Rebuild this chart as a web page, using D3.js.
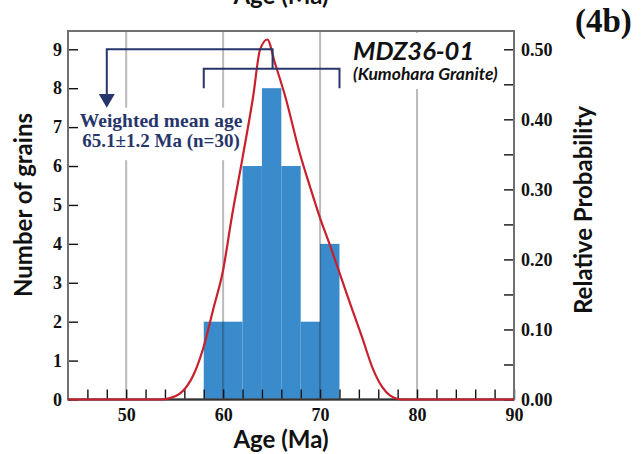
<!DOCTYPE html>
<html>
<head>
<meta charset="utf-8">
<script src="https://cdn.jsdelivr.net/npm/d3@7"></script>
<style>
  body { margin: 0; background: #fff; }
  svg { display: block; }
  .num { font-family: "Liberation Serif", serif; font-weight: bold; font-size: 18px; fill: #111; }
  .label { font-family: Lato, sans-serif; font-weight: bold; font-size: 24px; fill: #111; }
</style>
</head>
<body>
<svg width="643" height="454"></svg>
<script>
// **** data ****
var binStarts = [58, 60, 62, 64, 66, 68, 70];
var binWidth = 2;
var counts = [2, 2, 6, 8, 6, 2, 4];

// probability density curve (age in Ma, relative probability)
var curveAge  = [44, 52, 53.5, 54.5, 55.5, 56.1, 57.1, 57.9, 59.0, 60.0, 60.9, 62.0, 63.1, 63.8, 64.55, 65.35, 66.4, 67.9, 69.0, 70.0, 71.0, 72.0, 73.1, 74.3, 75.5, 76.4, 77.2, 78.5, 90];
var curveProb = [0, 0, 0.0, 0.002, 0.008, 0.016, 0.040, 0.071, 0.130, 0.185, 0.261, 0.345, 0.433, 0.499, 0.514, 0.480, 0.433, 0.352, 0.302, 0.259, 0.221, 0.181, 0.137, 0.090, 0.042, 0.018, 0.006, 0, 0];

var countTicks = [0, 1, 2, 3, 4, 5, 6, 7, 8, 9];
var probTicks = [0, 0.05, 0.1, 0.15, 0.2, 0.25, 0.3, 0.35, 0.4, 0.45, 0.5];
var ageTicks = [46, 48, 50, 52, 54, 56, 58, 60, 62, 64, 66, 68, 70, 72, 74, 76, 78, 80, 82, 84, 86, 88, 90];
var ageGrid = [50, 60, 70, 80];

var meanAge = 65.1;
var rangeAges = [58, 72];
var arrowAge = 48;

// **** scales ****
var svg = d3.select('svg');

var x = d3.scaleLinear().domain([44, 90]).range([68, 514]);
var y = d3.scaleLinear().domain([0, 9.47]).range([399.5, 31]);
var yp = d3.scaleLinear().domain([0, 0.5]).range([y(0), y(9)]);

// bars
svg.append('g')
    .selectAll('rect')
    .data(binStarts)
    .enter()
    .append('rect')
    .attr('x', function (d) { return x(d); })
    .attr('width', function (d) { return x(d + binWidth) - x(d); })
    .attr('y', function (d, i) { return y(counts[i]); })
    .attr('height', function (d, i) { return y(0) - y(counts[i]); })
    .style('fill', '#3a8bcc');

// gridlines (darken the bars where they cross)
svg.append('g')
    .selectAll('line')
    .data(ageGrid)
    .enter()
    .append('line')
    .attr('x1', function (d) { return x(d); })
    .attr('x2', function (d) { return x(d); })
    .attr('y1', y.range()[1])
    .attr('y2', y.range()[0])
    .style('stroke', '#000')
    .style('stroke-opacity', 0.27)
    .style('stroke-width', 2);

// white boxes behind the labels
svg.append('rect')
    .attr('x', x(44.2)).attr('y', y(7.5))
    .attr('width', x(62.4) - x(44.2)).attr('height', y(6.15) - y(7.5))
    .style('fill', '#fff');
svg.append('rect')
    .attr('x', x(72.6)).attr('y', y(9.42))
    .attr('width', x(89.8) - x(72.6)).attr('height', y(7.98) - y(9.42))
    .style('fill', '#fff');

// axes
var leftAxis = svg.append('g')
    .attr('transform', 'translate(' + x(44) + ',0)')
    .call(d3.axisLeft(y).tickValues(countTicks).tickSizeInner(-10).tickSizeOuter(0).tickPadding(6));

var rightAxis = svg.append('g')
    .attr('transform', 'translate(' + x(90) + ',0)')
    .call(d3.axisRight(yp).tickValues(probTicks).tickSizeInner(-10).tickSizeOuter(0).tickPadding(7)
        .tickFormat(function (d) { return Math.round(d * 100) % 10 === 0 ? d3.format('.2f')(d) : ''; }));

var bottomAxis = svg.append('g')
    .attr('transform', 'translate(0,' + y(0) + ')')
    .call(d3.axisBottom(x).tickValues(ageTicks).tickSizeInner(-10).tickSizeOuter(0).tickPadding(9)
        .tickFormat(function (d) { return d % 10 === 0 ? d : ''; }));

[leftAxis, rightAxis, bottomAxis].forEach(function (g) {
    g.select('.domain').remove();
    g.selectAll('.tick line').style('stroke', '#111').style('stroke-width', 1.4);
    g.selectAll('.tick text').attr('class', 'num').attr('fill', null);
});

// frame
svg.append('rect')
    .attr('x', x(44)).attr('y', y.range()[1])
    .attr('width', x(90) - x(44)).attr('height', y(0) - y.range()[1])
    .style('fill', 'none')
    .style('stroke', '#707070')
    .style('stroke-width', 2);
svg.append('line')
    .attr('x1', x(44)).attr('x2', x(90))
    .attr('y1', y(0)).attr('y2', y(0))
    .style('stroke', '#333')
    .style('stroke-width', 2);

// probability curve
var line = d3.line()
    .x(function (d, i) { return x(curveAge[i]); })
    .y(function (d) { return yp(d); })
    .curve(d3.curveMonotoneX);

svg.append('path')
    .datum(curveProb)
    .attr('d', line)
    .style('fill', 'none')
    .style('stroke', '#c8202c')
    .style('stroke-width', 2.2);

// weighted mean bracket and arrow
var navy = '#27366a';
var bracket = svg.append('g')
    .style('fill', 'none')
    .style('stroke', navy)
    .style('stroke-width', 2);

bracket.append('path')
    .attr('d', 'M' + x(rangeAges[0]) + ',' + y(8) +
        'V' + y(8.5) + 'H' + x(rangeAges[1]) + 'V' + y(8));
bracket.append('path')
    .attr('d', 'M' + x(meanAge) + ',' + y(8.5) +
        'V' + y(9) + 'H' + x(arrowAge) + 'V' + y(7.85));

svg.append('path')
    .attr('d', 'M' + (x(arrowAge) - 8) + ',' + y(7.85) +
        'L' + (x(arrowAge) + 8) + ',' + y(7.85) +
        'L' + x(arrowAge) + ',' + y(7.5) + 'Z')
    .style('fill', navy);

svg.append('text')
    .attr('x', x(53.6)).attr('y', 127)
    .attr('text-anchor', 'middle')
    .style('font-family', '"Liberation Serif", serif')
    .style('font-weight', 'bold')
    .style('font-size', '19.5px')
    .style('fill', navy)
    .text('Weighted mean age');

svg.append('text')
    .attr('x', x(53.6)).attr('y', 146.5)
    .attr('text-anchor', 'middle')
    .style('font-family', '"Liberation Serif", serif')
    .style('font-weight', 'bold')
    .style('font-size', '19px')
    .style('fill', navy)
    .text('65.1\u00b11.2 Ma (n=30)');

// sample labels
svg.append('text')
    .attr('x', 353).attr('y', 59.5)
    .style('font-family', 'Lato, sans-serif')
    .style('font-weight', 'bold')
    .style('font-style', 'italic')
    .style('font-size', '25.5px')
    .style('fill', '#111')
    .text('MDZ36-01');

svg.append('text')
    .attr('x', 353).attr('y', 79.5)
    .style('font-family', 'Lato, sans-serif')
    .style('font-weight', 'bold')
    .style('font-style', 'italic')
    .style('font-size', '17.5px')
    .style('fill', '#111')
    .text('(Kumohara Granite)');

svg.append('text')
    .attr('x', 575).attr('y', 32)
    .style('font-family', '"Liberation Serif", serif')
    .style('font-weight', 'bold')
    .style('font-size', '33px')
    .style('fill', '#111')
    .text('(4b)');

// axis titles
svg.append('text')
    .attr('class', 'label')
    .attr('x', 281).attr('y', 448)
    .attr('text-anchor', 'middle')
    .text('Age (Ma)');

svg.append('text')
    .attr('class', 'label')
    .attr('x', 281).attr('y', 4)
    .attr('text-anchor', 'middle')
    .text('Age (Ma)');

svg.append('text')
    .attr('class', 'label')
    .attr('transform', 'translate(32,205) rotate(-90)')
    .attr('text-anchor', 'middle')
    .text('Number of grains');

svg.append('text')
    .attr('class', 'label')
    .attr('transform', 'translate(592,210) rotate(-90)')
    .attr('text-anchor', 'middle')
    .text('Relative Probability');
</script>
</body>
</html>
